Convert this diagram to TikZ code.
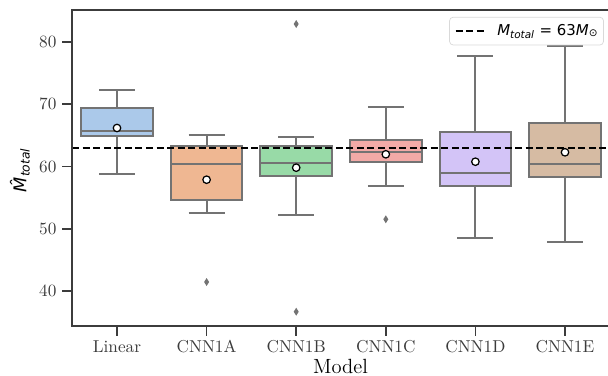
\documentclass[tikz,border=0pt]{standalone}
\usepackage{fontspec}
\newfontfamily\djvsans{DejaVu Sans}
\definecolor{bxgray}{RGB}{115,115,115}
\definecolor{spgray}{RGB}{60,60,60}
\definecolor{pblue}{RGB}{171,201,234}
\definecolor{porange}{RGB}{239,183,146}
\definecolor{pgreen}{RGB}{152,218,167}
\definecolor{pred}{RGB}{242,170,167}
\definecolor{ppurple}{RGB}{211,196,247}
\definecolor{pbrown}{RGB}{214,187,163}
\usetikzlibrary{positioning}

\begin{document}
\begin{tikzpicture}[x=1.792cm, y=0.1246cm,
        spine/.style={spgray, line width=0.9pt},
        boxline/.style={bxgray, line width=1.1pt},
        meanmark/.style={draw=black, fill=white, line width=0.7pt},
        flier/.style={fill=bxgray},
        ticklbl/.style={font=\fontsize{9.8}{11}\selectfont, inner sep=0pt},
        refline/.style={black, line width=1.4pt, dash pattern=on 4pt off 2pt}
      ]
        \useasboundingbox (-1.3058,26.533) rectangle (5.4799,86.725);
        % Boxes, whiskers and medians
        \foreach \i/\wl/\qa/\md/\qb/\wh/\col in {
            0/58.75/64.85/65.65/69.34/72.28/pblue,
            1/52.58/54.67/60.35/63.34/65.00/porange,
            2/52.22/58.48/60.61/63.25/64.78/pgreen,
            3/56.87/60.72/62.33/64.25/69.60/pred,
            4/48.57/56.87/58.96/65.59/77.69/ppurple,
            5/47.93/58.36/60.35/66.98/79.29/pbrown}
        {
          \draw[boxline] (\i,\wl) -- (\i,\qa) (\i,\qb) -- (\i,\wh);
          \draw[boxline] (\i-0.2,\wl) -- (\i+0.2,\wl) (\i-0.2,\wh) -- (\i+0.2,\wh);
          \draw[boxline, fill=\col] (\i-0.4,\qa) rectangle (\i+0.4,\qb);
          \draw[boxline] (\i-0.4,\md) -- (\i+0.4,\md);
        }
        % Outliers
        \foreach \i/\v in {1/41.46, 2/82.87, 2/36.69, 3/51.53}
          \fill[flier] (\i,\v) ++(0,0.08cm) -- ++(0.05cm,-0.08cm)
            -- ++(-0.05cm,-0.08cm) -- ++(-0.05cm,0.08cm) -- cycle;
        % Reference mass
        \draw[refline] (-0.5,63) -- (5.5,63);
        % Means
        \foreach \i/\mn in {0/66.18, 1/57.88, 2/59.81, 3/61.96, 4/60.77, 5/62.28}
          \draw[meanmark] (\i,\mn) circle (0.075cm);
        % Axes
        \draw[spine] (-0.5,34.40) rectangle (5.5,85.12);
        \foreach \v in {40,50,60,70,80}
          \draw[spine] (-0.5,\v) -- ++(-0.2cm,0)
            node[left=0.1cm, ticklbl] (ytick\v) {\v};
        \foreach \i/\lbl in {0/Linear, 1/CNN1A, 2/CNN1B, 3/CNN1C, 4/CNN1D, 5/CNN1E}
          \draw[spine] (\i,34.40) -- ++(0,-0.2cm)
            node[below=0.07cm, ticklbl] (xtick\i) {\lbl};
        \node[font=\fontsize{11.7}{13}\selectfont] (xlab) at (2.4944,27.98) {Model};
        \node[rotate=90, font=\fontsize{10}{12}\selectfont\djvsans\itshape] (ylab)
          at (-1.0826,59.44) {\^{M}\textsubscript{total}};
        % Legend
        \node[draw=black!15, fill=white, fill opacity=0.8, text opacity=1,
              rounded corners=2pt, minimum height=0.554cm, inner xsep=0.1cm,
              inner ysep=0pt, font=\fontsize{8.5}{10}\selectfont\djvsans,
              anchor=east] (legend) at (5.4335,81.73)
          {\hspace*{0.854cm}\textit{M}\textsubscript{\textit{total}} = 63\textit{M}\textsubscript{⊙}};
        \draw[refline] ([xshift=0.128cm]legend.west) -- ++(0.606cm,0);
      \end{tikzpicture}
\end{document}
